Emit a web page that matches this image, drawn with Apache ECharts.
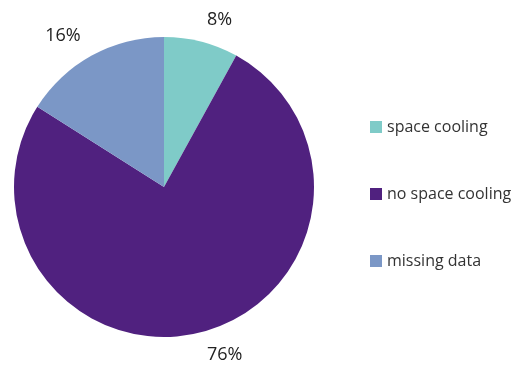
<!DOCTYPE html>
<html>
<head>
<meta charset="utf-8">
<style>
  html, body { margin: 0; padding: 0; background: #fff; }
  #chart { width: 527px; height: 369px; }
</style>
<script src="https://cdn.jsdelivr.net/npm/echarts@6/dist/echarts.min.js"></script>
</head>
<body>
<div id="chart"></div>
<script>
// Share of dwellings by cooling status (percent)
const categories = ['space cooling', 'no space cooling', 'missing data'];
const shares = [8, 76, 16];
const colors = ['#7fcbc8', '#50217f', '#7b97c6'];

const chart = echarts.init(document.getElementById('chart'));
const font = '"Open Sans", "Noto Sans", sans-serif';

chart.setOption({
  animation: false,
  color: colors,
  legend: {
    orient: 'vertical',
    left: 365,
    top: 114,
    itemWidth: 12,
    itemHeight: 12,
    itemGap: 51,
    icon: 'rect',
    textStyle: { fontFamily: font, fontSize: 16, color: '#333' },
    data: categories
  },
  series: [{
    type: 'pie',
    center: [164, 187],
    radius: 150,
    startAngle: 90,
    clockwise: true,
    label: {
      show: true,
      position: 'outside',
      formatter: '{c}%',
      fontFamily: font,
      fontSize: 18,
      color: '#222',
      distanceToLabelLine: 0
    },
    labelLine: { show: false, length: 23, length2: 0 },
    emphasis: { disabled: true },
    data: categories.map((name, i) => ({ name, value: shares[i] }))
  }]
});
</script>
</body>
</html>
